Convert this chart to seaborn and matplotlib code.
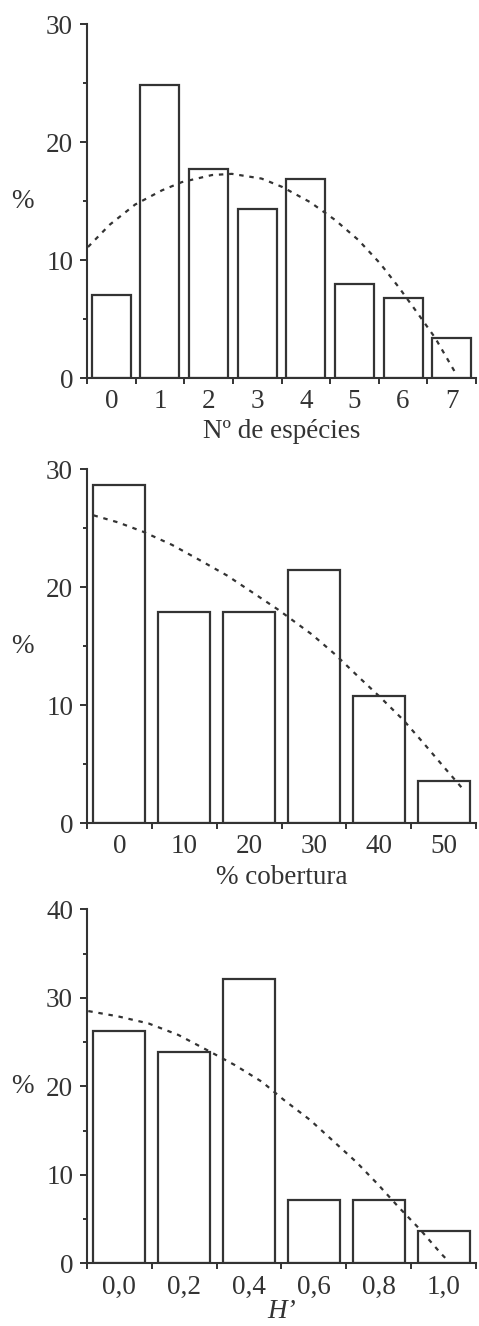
import numpy as np
import pandas as pd
import matplotlib
matplotlib.use("Agg")
import matplotlib.pyplot as plt
import seaborn as sns
from matplotlib.ticker import FixedLocator

# ---------------- data ----------------
species_cats = [0, 1, 2, 3, 4, 5, 6, 7]
species_pct = [7.0, 24.8, 17.7, 14.3, 16.9, 8.0, 6.8, 3.4]
species_labels = ["0", "1", "2", "3", "4", "5", "6", "7"]
species_curve_x = [-0.48, -0.03, 0.49, 1.04, 1.45, 2.07, 2.48, 3.09, 3.51,
                   4.09, 4.60, 5.08, 5.53, 5.91, 6.28, 6.66, 7.11]
species_curve_y = [11.1, 13.0, 14.7, 15.9, 16.6, 17.2, 17.3, 16.9, 16.2,
                   14.9, 13.4, 11.7, 9.7, 7.7, 5.6, 3.4, 0.2]

cover_cats = [0, 10, 20, 30, 40, 50]
cover_pct = [28.7, 17.9, 17.9, 21.5, 10.8, 3.6]
cover_labels = ["0", "10", "20", "30", "40", "50"]
cover_curve_x = [-4.0, -0.2, 3.7, 8.1, 12.4, 16.6, 20.7, 24.5, 29.7,
                 33.3, 36.9, 40.2, 43.8, 46.9, 50.0, 53.3]
cover_curve_y = [26.1, 25.5, 24.7, 23.6, 22.3, 21.0, 19.5, 18.1, 16.0,
                 14.3, 12.4, 10.7, 8.75, 6.8, 4.8, 2.7]

h_cats = [0.0, 0.2, 0.4, 0.6, 0.8, 1.0]
h_pct = [26.2, 23.9, 32.1, 7.2, 7.2, 3.6]
h_labels = ["0,0", "0,2", "0,4", "0,6", "0,8", "1,0"]
h_curve_x = [-0.096, -0.004, 0.09, 0.182, 0.27, 0.356, 0.44, 0.506, 0.588,
             0.66, 0.732, 0.798, 0.86, 0.928, 0.992, 1.016]
h_curve_y = [28.5, 27.9, 27.1, 25.8, 24.1, 22.4, 20.5, 18.5, 16.2,
             13.8, 11.4, 8.9, 6.4, 3.8, 1.1, 0.2]

# ---------------- style ----------------
sns.set_theme(style="ticks")
plt.rcParams["font.family"] = ["Liberation Serif", "DejaVu Serif"]
INK = "#333333"
FS = 19.5
plt.rcParams.update({
    "text.color": INK, "axes.labelcolor": INK,
    "xtick.color": INK, "ytick.color": INK, "axes.edgecolor": INK,
})

fig = plt.figure(figsize=(4.79, 13.26), dpi=100)

L = 87 / 479
W = (476 - 87) / 479
H = 354 / 1326
rects = [
    [L, (1326 - 378) / 1326, W, H],
    [L, (1326 - 823.3) / 1326, W, H],
    [L, (1326 - 1263.3) / 1326, W, H],
]
xlabel_y = [-0.152, -0.152, -0.136]

panels = [
    (species_cats, species_pct, species_labels, species_curve_x, species_curve_y,
     30, "Nº de espécies", "normal"),
    (cover_cats, cover_pct, cover_labels, cover_curve_x, cover_curve_y,
     30, "% cobertura", "normal"),
    (h_cats, h_pct, h_labels, h_curve_x, h_curve_y,
     40, "H’", "italic"),
]

for rect, ly, (cats, vals, labels, cx, cy, ymax, xlab, xstyle) in zip(rects, xlabel_y, panels):
    ax = fig.add_axes(rect)
    df = pd.DataFrame({"cat": cats, "pct": vals})
    sns.barplot(data=df, x="cat", y="pct", native_scale=True, width=0.8,
                color="white", saturation=1, edgecolor=INK, linewidth=1.6,
                errorbar=None, ax=ax, zorder=2)
    cdf = pd.DataFrame({"x": cx, "y": cy})
    sns.lineplot(data=cdf, x="x", y="y", sort=False, estimator=None, ax=ax,
                 color=INK, linewidth=1.6, linestyle=(0, (2.0, 2.6)),
                 zorder=3)

    step = cats[1] - cats[0]
    edges = [c - step / 2 for c in cats] + [cats[-1] + step / 2]
    ax.set_xlim(edges[0], edges[-1])
    ax.set_ylim(0, ymax)

    ax.xaxis.set_major_locator(FixedLocator(cats))
    ax.set_xticklabels(labels)
    ax.xaxis.set_minor_locator(FixedLocator(edges))
    ax.tick_params(axis="x", which="major", length=0, pad=8, labelsize=FS)
    ax.tick_params(axis="x", which="minor", length=4, width=1.4, direction="out")

    ax.yaxis.set_major_locator(FixedLocator(list(range(0, ymax + 1, 10))))
    ax.yaxis.set_minor_locator(FixedLocator(list(range(5, ymax, 10))))
    ax.tick_params(axis="y", which="major", length=5, width=1.4, pad=5,
                   labelsize=FS)
    ax.tick_params(axis="y", which="minor", length=3, width=1.4)

    for s in ["top", "right"]:
        ax.spines[s].set_visible(False)
    for s in ["left", "bottom"]:
        ax.spines[s].set_linewidth(1.5)
        ax.spines[s].set_color(INK)

    ax.set_ylabel("%", rotation=0, fontsize=FS, va="center", ha="center")
    ax.yaxis.set_label_coords(-0.165, 0.5)
    ax.set_xlabel(xlab, fontsize=FS, fontstyle=xstyle, va="center")
    ax.xaxis.set_label_coords(0.5, ly)
    ax.set_facecolor("white")

fig.savefig("out.png", dpi=100, facecolor="white")
